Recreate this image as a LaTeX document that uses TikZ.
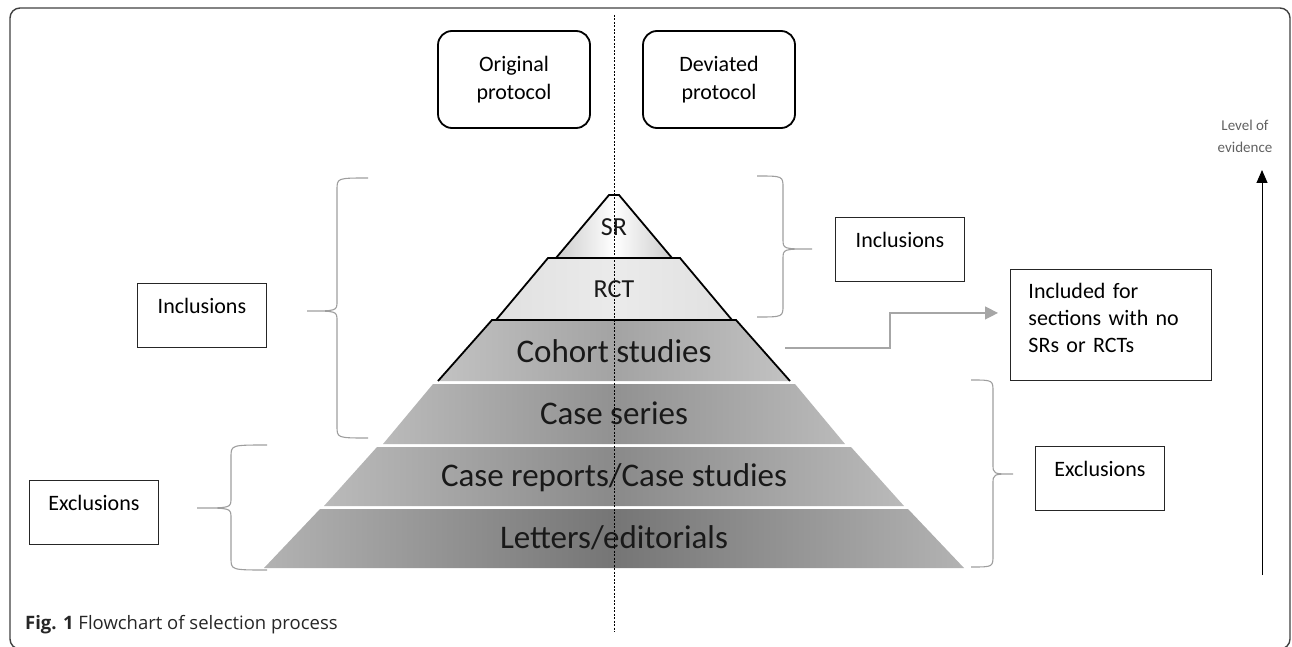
\documentclass[tikz,border=0pt]{standalone}
\usepackage{fontspec}
\setmainfont{Carlito}
\newfontfamily\capfont{Open Sans}
\usetikzlibrary{arrows.meta,positioning}

\begin{document}
\begin{tikzpicture}[x=1pt,y=-1pt,
      protobox/.style={
         rectangle,
         rounded corners=14pt,
         draw=black,
         line width=1.8pt,
         minimum width=152pt,
         minimum height=97pt,
         align=center,
         font=\fontsize{22}{28}\selectfont},
      sidebox/.style={
         rectangle,
         draw=black!85,
         line width=0.9pt,
         inner sep=0pt,
         minimum width=129pt,
         text height=30pt,
         text depth=34pt,
         anchor=north west,
         font=\fontsize{22}{27}\selectfont},
      layertext/.style={
         anchor=base,
         inner sep=0pt,
         text=black!90},
      mybrace/.style={draw=black!38, line width=1.1pt},
      myarrow/.style={-{Triangle[length=13pt,width=13pt]}, draw=black!35, line width=1.3pt}
      ]
      \useasboundingbox (0,0) rectangle (1292,647);
      % frame and caption
      \draw[line width=1.4pt, draw=black!75, rounded corners=10pt] (10,8) rectangle (1290,649);
      \node[anchor=base west, inner sep=0pt, text=black!85] (cap) at (25,629)
         {\capfont\fontsize{18.5}{22}\selectfont\textbf{Fig. 1} Flowchart of selection process};
      % pyramid
      \shade[left color=black!20, right color=black!20, middle color=white] (609,195) -- (619,195) -- (672,258) -- (556,258) -- cycle;
      \shade[left color=black!12, right color=black!12, middle color=black!8] (548,258) -- (680,258) -- (732,320) -- (496,320) -- cycle;
      \shade[left color=black!24, right color=black!24, middle color=black!36] (492,320) -- (736,320) -- (790,381) -- (438,381) -- cycle;
      \shade[left color=black!27, right color=black!27, middle color=black!43] (433,384) -- (795,384) -- (845,444) -- (383,444) -- cycle;
      \shade[left color=black!27, right color=black!27, middle color=black!46] (377,447) -- (851,447) -- (904,506) -- (324,506) -- cycle;
      \shade[left color=black!30, right color=black!30, middle color=black!54] (320,509) -- (908,509) -- (964,568) -- (264,568) -- cycle;
      \draw[line width=1.8pt] (556,258) -- (609,195) -- (619,195) -- (672,258);
      \draw[line width=1.8pt] (496,320) -- (548,258) -- (680,258) -- (732,320);
      \draw[line width=1.8pt] (438,381) -- (492,320) -- (736,320) -- (790,381);
      \node[layertext, font=\fontsize{26}{30}\selectfont] (sr) at (614,235) {SR};
      \node[layertext, font=\fontsize{26}{30}\selectfont] (rct) at (614,297) {RCT};
      \node[layertext, font=\fontsize{33}{38}\selectfont] (cohort) at (614,362) {Cohort studies};
      \node[layertext, font=\fontsize{33}{38}\selectfont] (series) at (614,424) {Case series};
      \node[layertext, font=\fontsize{33}{38}\selectfont] (reports) at (614,486) {Case reports/Case studies};
      \node[layertext, font=\fontsize{33}{38}\selectfont] (letters) at (614,548) {Letters/editorials};
      % protocols
      \draw[line width=0.6pt, dash pattern=on 2pt off 1.5pt] (614,15) -- (614,632);
      \node[protobox] (orig) at (514,79.5) {Original\\protocol};
      \node[protobox] (dev) at (719,79.5) {Deviated\\protocol};
      % boxes
      \node[sidebox] (incL) at (137,283) {Inclusions};
      \node[sidebox] (excL) at (29,480) {Exclusions};
      \node[sidebox] (incR) at (835,217) {Inclusions};
      \node[sidebox] (excR) at (1035,446) {Exclusions};
      \node[rectangle, draw=black!85, line width=0.9pt, anchor=north west, align=left,
            text width=165pt, inner xsep=18pt, inner ysep=12pt, text height=17pt, text depth=70pt,
            font=\fontsize{22}{27}\selectfont] (incl) at (1010,269)
            {Included for\\sections with no\\SRs or RCTs};
    \foreach \tx/\sx/\px/\ty/\my/\by in {
      368/337/307/178/311/438,
      267/231/197/445/508/570,
      757/783/812/176/249/317,
      971/993/1013/380/474/567}
       \draw[mybrace] (\tx,\ty) .. controls (\sx,\ty) .. (\sx,\ty+12) -- (\sx,\my-10)
          .. controls (\sx,\my) .. (\px,\my) .. controls (\sx,\my) .. (\sx,\my+10)
          -- (\sx,\by-12) .. controls (\sx,\by) .. (\tx,\by);
      % connector
      \coordinate (cohortR) at (785,348);
      \draw[myarrow, shorten >=12pt] (cohortR) -- ++(105,0) |- ([yshift=12pt]incl.west);
      % level of evidence
      \node[align=center, text=black!62, font=\fontsize{15}{22}\selectfont] (loe) at (1245,136) {Level of\\evidence};
      \coordinate (evbot) at (1262,575);
      \coordinate (evtop) at (1262,170);
      \draw[-{Triangle[length=13pt,width=11pt]}, line width=1pt] (evbot) -- (evtop);
\end{tikzpicture}
\end{document}
